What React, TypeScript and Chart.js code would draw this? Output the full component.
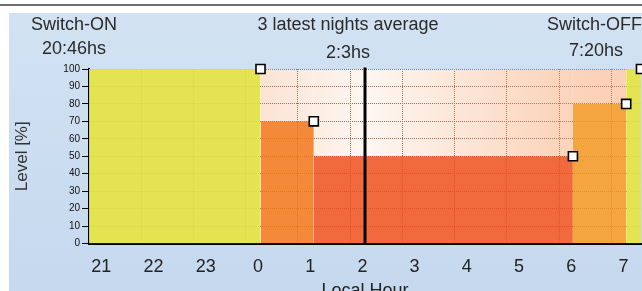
import React, { useEffect, useRef } from 'react';
import { Chart, registerables } from 'chart.js';

Chart.register(...registerables);

// ---- data ----
const SWITCH_ON = 20 + 46 / 60; // 20:46
const SWITCH_OFF = 31 + 20 / 60; // 7:20 (next day)
const AVERAGE_MID = 26 + 3 / 60; // 2:03
const STEP_TIMES = [SWITCH_ON, 24.05, 25.07, 30.03, 31.05, SWITCH_OFF];
const STEP_LEVELS = [100, 70, 50, 80, 100];
const STEP_COLORS = [
  'rgba(226,226,67,0.92)',
  'rgba(243,116,23,0.85)',
  'rgba(239,80,28,0.85)',
  'rgba(243,149,30,0.85)',
  'rgba(226,226,67,0.92)',
];
const HOUR_TICKS = [21, 22, 23, 24, 25, 26, 27, 28, 29, 30, 31];
const GRID_TIMES = [21.767, 22.767, 23.767, 24.767, 25.767, 26.767, 27.767, 28.767, 29.767, 30.767];
const Y_TICKS = [0, 10, 20, 30, 40, 50, 60, 70, 80, 90, 100];
const LABEL_ON = ['Switch-ON', '20:46hs'];
const LABEL_AVG = ['3 latest nights average', '2:3hs'];
const LABEL_OFF = ['Switch-OFF', '7:20hs'];

const FONT = '"Liberation Sans", Arial, sans-serif';
const GRID_COLOR = 'rgb(150,100,75)';

export default function App() {
  const ref = useRef<HTMLCanvasElement | null>(null);

  useEffect(() => {
    const canvas = ref.current;
    if (!canvas) return;

    const peach = (c: any) => {
      const chart = c.chart;
      const area = chart.chartArea;
      if (!area) return 'rgba(245,150,90,0.3)';
      const g = chart.ctx.createLinearGradient(area.left, 0, area.right, 0);
      g.addColorStop(0, 'rgba(245,150,90,0.40)');
      g.addColorStop(0.3, 'rgba(245,150,90,0.28)');
      g.addColorStop(0.5, 'rgba(245,150,90,0.08)');
      g.addColorStop(0.85, 'rgba(245,150,90,0.40)');
      g.addColorStop(1, 'rgba(245,150,90,0.45)');
      return g;
    };

    const datasets: any[] = [];
    datasets.push({
      data: STEP_TIMES.slice(1).map((t, i) => ({ x: t, y: STEP_LEVELS[i] })),
      showLine: false,
      pointStyle: 'rect',
      pointRadius: 6.4,
      pointBackgroundColor: '#ffffff',
      pointBorderColor: '#000000',
      pointBorderWidth: 1.6,
      clip: false,
    });
    datasets.push({
      data: [
        { x: AVERAGE_MID, y: 0 },
        { x: AVERAGE_MID, y: 100 },
      ],
      borderColor: '#000000',
      borderWidth: 3,
      borderCapStyle: 'square',
      pointRadius: 0,
      fill: false,
      clip: false,
    });
    STEP_LEVELS.forEach((lvl, i) => {
      datasets.push({
        data: [
          { x: STEP_TIMES[i], y: lvl },
          { x: STEP_TIMES[i + 1], y: lvl },
        ],
        fill: 'origin',
        backgroundColor: STEP_COLORS[i],
        borderColor: 'transparent',
        borderWidth: 0,
        pointRadius: 0,
      });
      if (lvl < 100) {
        datasets.push({
          data: [
            { x: STEP_TIMES[i], y: 100 },
            { x: STEP_TIMES[i + 1], y: 100 },
          ],
          fill: '-1',
          backgroundColor: peach,
          borderColor: 'transparent',
          borderWidth: 0,
          pointRadius: 0,
        });
      }
    });

    const bgPlugin = {
      id: 'plotBg',
      beforeDraw(chart: any) {
        const { ctx, chartArea: a } = chart;
        ctx.save();
        ctx.fillStyle = '#ffffff';
        ctx.fillRect(a.left, a.top, a.right - a.left, a.bottom - a.top);
        ctx.restore();
      },
    };

    const textPlugin = {
      id: 'headTexts',
      afterDraw(chart: any) {
        const ctx = chart.ctx;
        ctx.save();
        ctx.fillStyle = '#2a2a2a';
        ctx.font = `18px ${FONT}`;
        ctx.textBaseline = 'middle';
        ctx.textAlign = 'center';
        ctx.fillText(LABEL_ON[0], 65, 12);
        ctx.fillText(LABEL_ON[1], 65, 36);
        ctx.fillText(LABEL_AVG[0], 339, 12);
        ctx.fillText(LABEL_AVG[1], 339, 40);
        ctx.fillText(LABEL_OFF[1], 587, 38.5);
        ctx.textAlign = 'left';
        ctx.fillText(LABEL_OFF[0], 538, 12);
        ctx.restore();
      },
    };

    const chart = new Chart(canvas, {
      type: 'line',
      data: { datasets },
      plugins: [bgPlugin, textPlugin],
      options: {
        animation: false,
        responsive: false,
        events: [],
        layout: { autoPadding: false, padding: { top: 56, left: 0, right: 1, bottom: 0 } },
        plugins: { legend: { display: false }, tooltip: { enabled: false } },
        scales: {
          x: {
            type: 'linear',
            position: 'bottom',
            min: SWITCH_ON,
            max: SWITCH_OFF,
            afterBuildTicks: (s: any) => {
              s.ticks = HOUR_TICKS.map((v) => ({ value: v }));
            },
            afterFit: (s: any) => {
              s.height = 69.5;
            },
            ticks: {
              autoSkip: false,
              maxRotation: 0,
              padding: 12.5,
              color: '#222222',
              font: { family: FONT, size: 18 },
              callback: (v: any) => String(Number(v) % 24),
            },
            grid: { display: false, drawTicks: false },
            border: { display: true, color: '#000000', width: 2 },
            title: {
              display: true,
              text: 'Local Hour',
              color: '#222222',
              font: { family: FONT, size: 18 },
              padding: { top: 0, bottom: 11 },
            },
          },
          xg: {
            type: 'linear',
            position: 'bottom',
            min: SWITCH_ON,
            max: SWITCH_OFF,
            afterBuildTicks: (s: any) => {
              s.ticks = GRID_TIMES.map((v) => ({ value: v }));
            },
            afterFit: (s: any) => {
              s.height = 0;
            },
            ticks: { display: false },
            grid: { display: true, drawTicks: false, color: GRID_COLOR, lineWidth: 1 },
            border: { display: false, dash: [1, 1] },
          },
          y: {
            type: 'linear',
            min: 0,
            max: 100,
            afterBuildTicks: (s: any) => {
              s.ticks = Y_TICKS.map((v) => ({ value: v }));
            },
            afterFit: (s: any) => {
              s.width = 80;
            },
            ticks: {
              padding: 2,
              color: '#111111',
              font: { family: FONT, size: 10 },
            },
            grid: {
              color: GRID_COLOR,
              lineWidth: 1,
              drawTicks: true,
              tickLength: 7,
              tickColor: '#000000',
              tickWidth: 1,
            },
            border: { display: true, color: '#000000', width: 2, dash: [1, 1] },
            title: {
              display: true,
              text: 'Level [%]',
              color: '#333333',
              font: { family: FONT, size: 17 },
              padding: { top: 3, bottom: 0 },
            },
          },
        },
      } as any,
    });

    return () => chart.destroy();
  }, []);

  return (
    <div
      style={{
        position: 'fixed',
        left: 0,
        top: 0,
        width: 642,
        height: 291,
        overflow: 'hidden',
        background: '#ffffff',
      }}
    >
      <div
        style={{
          position: 'absolute',
          left: 0,
          top: 4,
          width: 642,
          height: 2,
          background: '#6e6e6e',
        }}
      />
      <canvas
        ref={ref}
        width={633}
        height={300}
        style={{
          position: 'absolute',
          left: 9,
          top: 13,
          width: 633,
          height: 300,
          background: 'linear-gradient(#d2e2f3, #c4d8ee)',
        }}
      />
    </div>
  );
}
